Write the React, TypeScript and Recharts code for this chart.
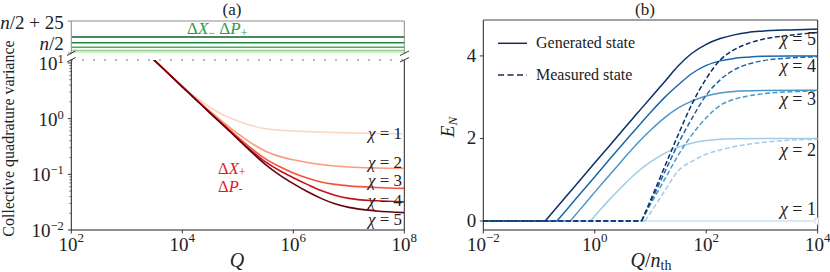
import React from 'react';
import { LineChart, Line, XAxis, YAxis, ReferenceLine } from 'recharts';

const SERIF = '"Liberation Serif", "Times New Roman", serif';
const W = 830;
const H = 272;
const INK = '#222';

// ---------------- Panel (a) data ----------------
const qTicks = [1e2, 1e4, 1e6, 1e8];
const varTicks = [
  0.01, 0.02, 0.03, 0.04, 0.05, 0.06, 0.07, 0.08, 0.09,
  0.1, 0.2, 0.3, 0.4, 0.5, 0.6, 0.7, 0.8, 0.9,
  1, 2, 3, 4, 5, 6, 7, 8, 9, 10,
];
const topTicks = [0, 25];
const topTickLabels = ['/2', '/2 + 25'];
const chiNames = ['χ = 1', 'χ = 2', 'χ = 3', 'χ = 4', 'χ = 5'];

const qGrid = [1000, 3162, 10000, 17783, 31623, 56234, 100000, 177828, 316228, 562341, 1000000, 1778279, 3162278, 5623413, 10000000, 31622777, 100000000];
const sqChi1 = [33, 11.3, 3.9, 2.4, 1.6, 1.15, 0.91, 0.75, 0.66, 0.62, 0.6, 0.585, 0.575, 0.565, 0.555, 0.54, 0.535];
const sqChi2 = [33, 11.2, 3.8, 2.25, 1.36, 0.84, 0.54, 0.36, 0.26, 0.21, 0.182, 0.163, 0.15, 0.141, 0.135, 0.13, 0.128];
const sqChi3 = [33, 11.1, 3.75, 2.2, 1.3, 0.78, 0.47, 0.29, 0.19, 0.138, 0.106, 0.086, 0.073, 0.066, 0.062, 0.058, 0.056];
const sqChi4 = [33, 11.1, 3.73, 2.18, 1.27, 0.75, 0.44, 0.265, 0.167, 0.117, 0.087, 0.066, 0.051, 0.042, 0.037, 0.0335, 0.032];
const sqChi5 = [33, 11.1, 3.72, 2.17, 1.26, 0.74, 0.43, 0.25, 0.15, 0.098, 0.068, 0.049, 0.037, 0.0295, 0.0255, 0.022, 0.0205];
const squeezed = [sqChi1, sqChi2, sqChi3, sqChi4, sqChi5];

// anti-squeezed variances, offset above n/2
const qEnds = [100, 100000000];
const antiSqueezed = [0.5, 2, 4.5, 8, 12.5];

const redColors = ['#fcd6c4', '#fb9b7d', '#f3533a', '#c0141c', '#67000d'];
const greenColors = ['#d0edca', '#8fd08d', '#4cad5f', '#23893f', '#155f2e'];

// ---------------- Panel (b) data ----------------
const ratioTicks = [0.01, 1, 100, 10000];
const enTicks = [0, 2, 4];

const genChi1X = [10000];
const genChi1Y = [0];
const genChi2X = [0.832, 1, 1.778, 3.162, 5.623, 10, 17.78, 31.62, 56.23, 100, 316.2, 1000, 10000];
const genChi2Y = [0, 0.12, 0.5, 0.85, 1.17, 1.43, 1.64, 1.79, 1.89, 1.95, 1.99, 2.0, 2.0];
const genChi3X = [0.363, 0.562, 1, 1.778, 3.162, 5.623, 10, 17.78, 31.62, 56.23, 100, 177.8, 316.2, 1000, 10000];
const genChi3Y = [0, 0.3, 0.7, 1.09, 1.48, 1.86, 2.2, 2.5, 2.74, 2.91, 3.03, 3.1, 3.14, 3.16, 3.17];
const genChi4X = [0.209, 0.316, 0.562, 1, 1.778, 3.162, 5.623, 10, 17.78, 31.62, 56.23, 100, 177.8, 316.2, 562.3, 1000, 3162, 10000];
const genChi4Y = [0, 0.28, 0.68, 1.07, 1.47, 1.86, 2.25, 2.63, 2.99, 3.3, 3.58, 3.77, 3.88, 3.94, 3.97, 3.99, 4.0, 4.0];
const genChi5X = [0.129, 0.316, 0.562, 1, 1.778, 3.162, 5.623, 10, 17.78, 31.62, 56.23, 100, 177.8, 316.2, 562.3, 1000, 3162, 10000];
const genChi5Y = [0, 0.62, 1.01, 1.41, 1.8, 2.2, 2.59, 2.98, 3.37, 3.76, 4.07, 4.28, 4.42, 4.51, 4.57, 4.6, 4.63, 4.65];

const measX = [6.92, 10, 17.78, 31.62, 56.23, 100, 177.8, 316.2, 562.3, 1000, 3162, 10000];
const measChi1X = [10000];
const measChi1Y = [0];
const measChi2X = [7.94, 10, 17.78, 31.62, 56.23, 100, 177.8, 316.2, 562.3, 1000, 3162, 10000];
const measChi2Y = [0, 0.2, 0.72, 1.22, 1.45, 1.62, 1.72, 1.8, 1.86, 1.9, 1.96, 1.98];
const measChi3Y = [0, 0.4, 1.0, 1.6, 2.1, 2.5, 2.8, 2.95, 3.03, 3.08, 3.13, 3.15];
const measChi4Y = [0, 0.45, 1.17, 1.88, 2.5, 3.05, 3.42, 3.66, 3.8, 3.88, 3.95, 3.98];
const measChi5Y = [0, 0.5, 1.3, 2.1, 2.85, 3.45, 3.9, 4.15, 4.3, 4.4, 4.5, 4.57];

const genSeries = [
  [genChi1X, genChi1Y],
  [genChi2X, genChi2Y],
  [genChi3X, genChi3Y],
  [genChi4X, genChi4Y],
  [genChi5X, genChi5Y],
];
const measSeries = [
  [measChi1X, measChi1Y],
  [measChi2X, measChi2Y],
  [measX, measChi3Y],
  [measX, measChi4Y],
  [measX, measChi5Y],
];
const blueColors = ['#d6e6f4', '#a3cbe4', '#4b97ca', '#1c66ab', '#0a2f6b'];

const toPts = (xs: number[], ys: number[]) => xs.map((x, i) => ({ x, y: ys[i] }));

// ---------------- layout ----------------
const A_LEFT = 71.3;
const A_RIGHT = 404.3;
const A_TOP1 = 21;
const A_BOT1 = 53;
const A_TOP2 = 60;
const A_BOT2 = 230;
const A_VAR_MAX = 11.3;
const B_LEFT = 483.3;
const B_RIGHT = 817.7;
const B_TOP = 20;
const B_BOT = 230;
const B_EMIN = -0.218;
const B_EMAX = 4.87;

const expText = (v: number) => {
  const e = Math.round(Math.log10(v));
  return e < 0 ? '\u2212' + Math.abs(e) : String(e);
};

const PowXTick = (props: any) => {
  const { x, y, payload } = props;
  return (
    <g>
      <line x1={x} x2={x} y1={y} y2={y + 3.5} stroke={INK} strokeWidth={0.9} />
      <text x={x} y={y + 20.5} textAnchor="middle" fontFamily={SERIF} fontSize={19} fill={INK}>
        10<tspan dy={-8.5} fontSize={13}>{expText(payload.value)}</tspan>
      </text>
    </g>
  );
};

const LogYTick = (props: any) => {
  const { x, y, payload } = props;
  const lv = Math.log10(payload.value);
  const e = Math.round(lv);
  const major = Math.abs(lv - e) < 1e-6;
  return (
    <g>
      <line x1={x} x2={x - (major ? 3.5 : 2)} y1={y} y2={y} stroke={INK} strokeWidth={major ? 0.9 : 0.6} />
      {major && (
        <text x={x - 7.5} y={y + 7} textAnchor="end" fontFamily={SERIF} fontSize={19} fill={INK}>
          10<tspan dy={-7} fontSize={12.5}>{expText(payload.value)}</tspan>
        </text>
      )}
    </g>
  );
};

const TopYTick = (props: any) => {
  const { x, y, payload } = props;
  const i = topTicks.indexOf(payload.value);
  const dy = i === 1 ? 8 : -3.5;
  return (
    <g>
      <line x1={x} x2={x - 3.5} y1={y} y2={y} stroke="#777" strokeWidth={0.9} />
      <text x={x - 7.5} y={y + dy} textAnchor="end" fontFamily={SERIF} fontSize={19} fill={INK}>
        <tspan fontStyle="italic">n</tspan>{topTickLabels[i]}
      </text>
    </g>
  );
};

const LinYTick = (props: any) => {
  const { x, y, payload } = props;
  return (
    <g>
      <line x1={x} x2={x - 3.5} y1={y} y2={y} stroke={INK} strokeWidth={0.9} />
      <text x={x - 7} y={y + 6} textAnchor="end" fontFamily={SERIF} fontSize={19} fill={INK}>
        {payload.value}
      </text>
    </g>
  );
};

const abs: React.CSSProperties = { position: 'absolute', left: 0, top: 0 };

export default function App() {
  return (
    <div style={{ position: 'absolute', left: 0, top: 0, width: W, height: H, background: '#fff', fontFamily: SERIF }}>
      {/* Panel (a) upper: anti-squeezed quadratures */}
      <div style={abs}>
        <LineChart width={W} height={H} margin={{ top: A_TOP1, right: W - A_RIGHT, bottom: H - A_BOT1, left: 0 }}>
          <XAxis type="number" dataKey="x" scale="log" domain={[1e2, 1e8]} allowDataOverflow hide />
          <YAxis
            type="number"
            domain={[0, 25]}
            ticks={topTicks}
            interval={0}
            width={A_LEFT}
            tickSize={0}
            tickMargin={0}
            tickLine={false}
            axisLine={{ stroke: '#8c8c8c', strokeWidth: 1 }}
            tick={(p: any) => <TopYTick {...p} />}
          />
          <ReferenceLine y={25} stroke="#8c8c8c" strokeWidth={1} />
          <ReferenceLine x={1e8} stroke="#8c8c8c" strokeWidth={1} />
          {antiSqueezed.map((v, i) => (
            <Line
              key={'g' + i}
              data={toPts(qEnds, [v, v])}
              dataKey="y"
              type="linear"
              stroke={greenColors[i]}
              strokeWidth={1.5}
              dot={false}
              isAnimationActive={false}
            />
          ))}
        </LineChart>
      </div>

      {/* Panel (a) lower: squeezed quadratures */}
      <div style={abs}>
        <LineChart width={W} height={H} margin={{ top: A_TOP2, right: W - A_RIGHT, bottom: 0, left: 0 }}>
          <XAxis
            type="number"
            dataKey="x"
            scale="log"
            domain={[1e2, 1e8]}
            allowDataOverflow
            ticks={qTicks}
            interval={0}
            height={H - A_BOT2}
            tickSize={0}
            tickMargin={0}
            tickLine={false}
            axisLine={{ stroke: INK, strokeWidth: 1 }}
            tick={(p: any) => <PowXTick {...p} />}
          />
          <YAxis
            type="number"
            scale="log"
            domain={[0.01, A_VAR_MAX]}
            allowDataOverflow
            ticks={varTicks}
            interval={0}
            width={A_LEFT}
            tickSize={0}
            tickMargin={0}
            tickLine={false}
            axisLine={{ stroke: INK, strokeWidth: 1 }}
            tick={(p: any) => <LogYTick {...p} />}
          />
          <ReferenceLine y={A_VAR_MAX} stroke="#777" strokeWidth={1.3} strokeDasharray="1.4 9.6" />
          <ReferenceLine x={1e8} stroke={INK} strokeWidth={1} />
          {squeezed.map((ys, i) => (
            <Line
              key={'r' + i}
              data={toPts(qGrid, ys)}
              dataKey="y"
              type="monotone"
              stroke={redColors[i]}
              strokeWidth={1.6}
              dot={false}
              isAnimationActive={false}
            />
          ))}
        </LineChart>
      </div>

      {/* Panel (b) */}
      <div style={abs}>
        <LineChart width={W} height={H} margin={{ top: B_TOP, right: W - B_RIGHT, bottom: 0, left: 0 }}>
          <XAxis
            type="number"
            dataKey="x"
            scale="log"
            domain={[0.01, 10000]}
            allowDataOverflow
            ticks={ratioTicks}
            interval={0}
            height={H - B_BOT}
            tickSize={0}
            tickMargin={0}
            tickLine={false}
            axisLine={{ stroke: INK, strokeWidth: 1 }}
            tick={(p: any) => <PowXTick {...p} />}
          />
          <YAxis
            type="number"
            domain={[B_EMIN, B_EMAX]}
            allowDataOverflow
            ticks={enTicks}
            interval={0}
            width={B_LEFT}
            tickSize={0}
            tickMargin={0}
            tickLine={false}
            axisLine={{ stroke: INK, strokeWidth: 1 }}
            tick={(p: any) => <LinYTick {...p} />}
          />
          <ReferenceLine y={B_EMAX} stroke="#444" strokeWidth={1} />
          <ReferenceLine x={10000} stroke={INK} strokeWidth={1} />
          {genSeries.map(([xs], i) => (
            <Line
              key={'gz' + i}
              data={toPts([0.01, xs[0]], [0, 0])}
              dataKey="y"
              type="linear"
              stroke={blueColors[i]}
              strokeWidth={1.5}
              dot={false}
              isAnimationActive={false}
            />
          ))}
          {genSeries.map(([xs, ys], i) => (
            <Line
              key={'gs' + i}
              data={toPts(xs, ys)}
              dataKey="y"
              type="monotone"
              stroke={blueColors[i]}
              strokeWidth={1.5}
              dot={false}
              isAnimationActive={false}
            />
          ))}
          {measSeries.map(([xs], i) => (
            <Line
              key={'mz' + i}
              data={toPts([0.01, xs[0]], [0, 0])}
              dataKey="y"
              type="linear"
              stroke={blueColors[i]}
              strokeWidth={1.5}
              strokeDasharray="5 2.5"
              dot={false}
              isAnimationActive={false}
            />
          ))}
          {measSeries.map(([xs, ys], i) => (
            <Line
              key={'ms' + i}
              data={toPts(xs, ys)}
              dataKey="y"
              type="monotone"
              stroke={blueColors[i]}
              strokeWidth={1.5}
              strokeDasharray="5 2.5"
              dot={false}
              isAnimationActive={false}
            />
          ))}
        </LineChart>
      </div>

      {/* Annotations */}
      <svg width={W} height={H} style={{ ...abs, pointerEvents: 'none' }} fontFamily={SERIF}>
        <text x={232} y={14.5} textAnchor="middle" fontSize={17} fill={INK}>(a)</text>
        <text x={645} y={14.5} textAnchor="middle" fontSize={17} fill={INK}>(b)</text>

        <text transform="translate(14,138.5) rotate(-90)" textAnchor="middle" fontSize={16} fill={INK}>
          Collective quadrature variance
        </text>
        <text x={237} y={267} textAnchor="middle" fontSize={20} fontStyle="italic" fill={INK}>Q</text>
        <text x={651} y={267} textAnchor="middle" fontSize={20} fill={INK}>
          <tspan fontStyle="italic">Q</tspan>/<tspan fontStyle="italic">n</tspan>
          <tspan fontSize={14} dy={3}>th</tspan>
        </text>
        <text transform="translate(454,127) rotate(-90)" textAnchor="middle" fontSize={19} fill={INK}>
          <tspan fontStyle="italic">E</tspan>
          <tspan fontSize={13} dy={3} fontStyle="italic">N</tspan>
        </text>

        {/* axis break marks */}
        <g stroke="#333" strokeWidth={1}>
          <line x1={67} y1={55.5} x2={75.5} y2={51} />
          <line x1={67} y1={62} x2={75.5} y2={57.5} />
          <line x1={400} y1={55.5} x2={409} y2={51} />
          <line x1={400} y1={62} x2={409} y2={57.5} />
        </g>

        {/* quadrature labels */}
        <text x={187} y={34} fontSize={17} fill="#2e9a48">
          Δ<tspan fontStyle="italic">X</tspan><tspan fontSize={12} dy={3}>−</tspan>
          <tspan dy={-3}> Δ</tspan><tspan fontStyle="italic">P</tspan><tspan fontSize={12} dy={3}>+</tspan>
        </text>
        <text x={218} y={174} fontSize={16.5} fill="#e31a1c">
          Δ<tspan fontStyle="italic">X</tspan><tspan fontSize={12} dy={1.5}>+</tspan>
        </text>
        <text x={218} y={191.5} fontSize={16.5} fill="#e31a1c">
          Δ<tspan fontStyle="italic">P</tspan><tspan fontSize={12} dy={1.5}>-</tspan>
        </text>

        {/* chi labels panel (a) */}
        {[138.5, 167.5, 186, 205.5, 224.5].map((yy, i) => (
          <text key={'ca' + i} x={402} y={yy} textAnchor="end" fontSize={17} fill={INK}>
            <tspan fontStyle="italic">χ</tspan>{chiNames[i].slice(1)}
          </text>
        ))}
        {/* chi labels panel (b) */}
        {[214.5, 156, 105, 71.5, 45].map((yy, i) => (
          <text key={'cb' + i} x={816} y={yy} textAnchor="end" fontSize={18} fill={INK}>
            <tspan fontStyle="italic">χ</tspan>{chiNames[i].slice(1)}
          </text>
        ))}

        {/* legend panel (b) */}
        <line x1={498} y1={43.3} x2={527} y2={43.3} stroke="#1c2a4a" strokeWidth={1.5} />
        <text x={536} y={48} fontSize={16} fill={INK}>Generated state</text>
        <line x1={498} y1={75} x2={527} y2={75} stroke="#1c2a4a" strokeWidth={1.5} strokeDasharray="6 3.5" />
        <text x={536} y={79.5} fontSize={16} fill={INK}>Measured state</text>
      </svg>
    </div>
  );
}
